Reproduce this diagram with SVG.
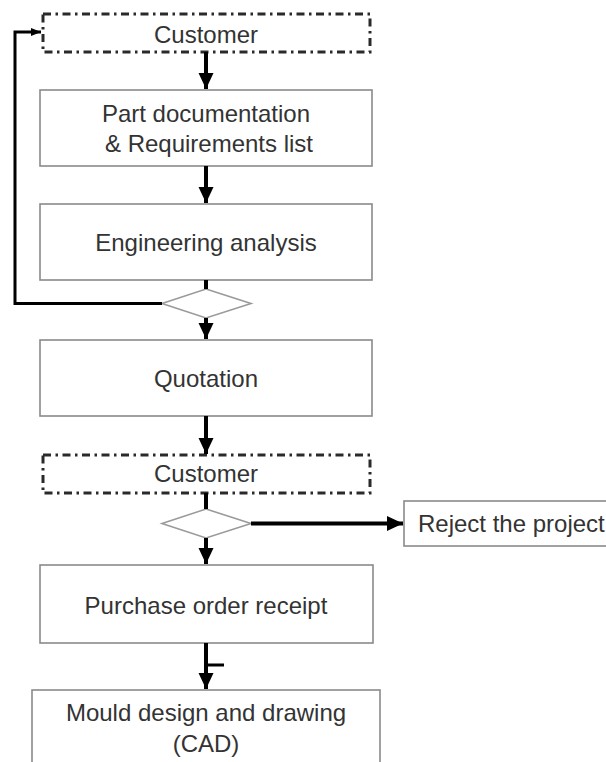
<svg xmlns="http://www.w3.org/2000/svg" width="606" height="762" viewBox="0 0 606 762">
<style>
.box{fill:#fff;stroke:#8a8a8a;stroke-width:1.6}
.cust{fill:#fff;stroke:#2a2a2a;stroke-width:3;stroke-dasharray:8 4.5 2.5 4.5}
.dia{fill:#fff;stroke:#9a9a9a;stroke-width:1.6}
.t{font-family:"Liberation Sans",Arial,sans-serif;font-size:24px;fill:#333;text-anchor:middle}
.c{stroke:#000;stroke-width:4;fill:none}
.thin{stroke:#000;stroke-width:3;fill:none}
</style>
<defs>
<marker id="ah" markerUnits="userSpaceOnUse" markerWidth="16" markerHeight="17" viewBox="0 0 16 17" refX="16" refY="8.5" orient="auto">
<path d="M0,1 L16,8.5 L0,16 Z" fill="#000"/>
</marker>
<marker id="ahs" markerUnits="userSpaceOnUse" markerWidth="10" markerHeight="10" viewBox="0 0 10 10" refX="10" refY="5" orient="auto">
<path d="M0,1 L10,5 L0,9 Z" fill="#000"/>
</marker>
</defs>
<rect width="606" height="762" fill="#fff"/>
<g id="customer1"><rect class="cust" x="43" y="14" width="327" height="38"/><text class="t" x="206" y="43">Customer</text></g>
<g id="partdoc"><rect class="box" x="40" y="90" width="332" height="76"/><text class="t" x="206" y="122">Part documentation</text><text class="t" x="209" y="152">&amp; Requirements list</text></g>
<g id="engineering"><rect class="box" x="40" y="204" width="332" height="76"/><text class="t" x="206" y="251">Engineering analysis</text></g>
<g id="decision1"><polygon class="dia" points="206,289 251,303.5 206,318 162,303.5"/></g>
<g id="quotation"><rect class="box" x="40" y="340" width="332" height="76"/><text class="t" x="206" y="387">Quotation</text></g>
<g id="customer2"><rect class="cust" x="43" y="455" width="327" height="38"/><text class="t" x="206" y="482">Customer</text></g>
<g id="decision2"><polygon class="dia" points="206,509 251,523.5 206,538 162,523.5"/></g>
<g id="reject"><rect class="box" x="404" y="501" width="210" height="45"/><text class="t" x="418" y="532" style="text-anchor:start">Reject the project</text></g>
<g id="purchase"><rect class="box" x="40" y="565" width="333" height="78"/><text class="t" x="206" y="614">Purchase order receipt</text></g>
<g id="mould"><rect class="box" x="32" y="690" width="348" height="80"/><text class="t" x="206" y="721">Mould design and drawing</text><text class="t" x="206" y="752">(CAD)</text></g>
<g id="connectors">
<line class="c" x1="206" y1="52" x2="206" y2="89" marker-end="url(#ah)"/>
<line class="c" x1="206" y1="166" x2="206" y2="203" marker-end="url(#ah)"/>
<line class="c" x1="206" y1="280" x2="206" y2="289"/>
<line class="c" x1="206" y1="318" x2="206" y2="339" marker-end="url(#ah)"/>
<polyline class="thin" points="162,303.5 15,303.5 15,32 41,32" marker-end="url(#ahs)"/>
<line class="c" x1="206" y1="416" x2="206" y2="454" marker-end="url(#ah)"/>
<line class="c" x1="206" y1="493" x2="206" y2="509"/>
<line class="c" x1="206" y1="538" x2="206" y2="564" marker-end="url(#ah)"/>
<line class="c" x1="251" y1="523.5" x2="403" y2="523.5" stroke-width="6" marker-end="url(#ah)"/>
<line class="c" x1="206" y1="643" x2="206" y2="689" marker-end="url(#ah)"/>
<line class="thin" x1="206" y1="665" x2="224" y2="665" stroke-width="2.5"/>
</g>
</svg>
